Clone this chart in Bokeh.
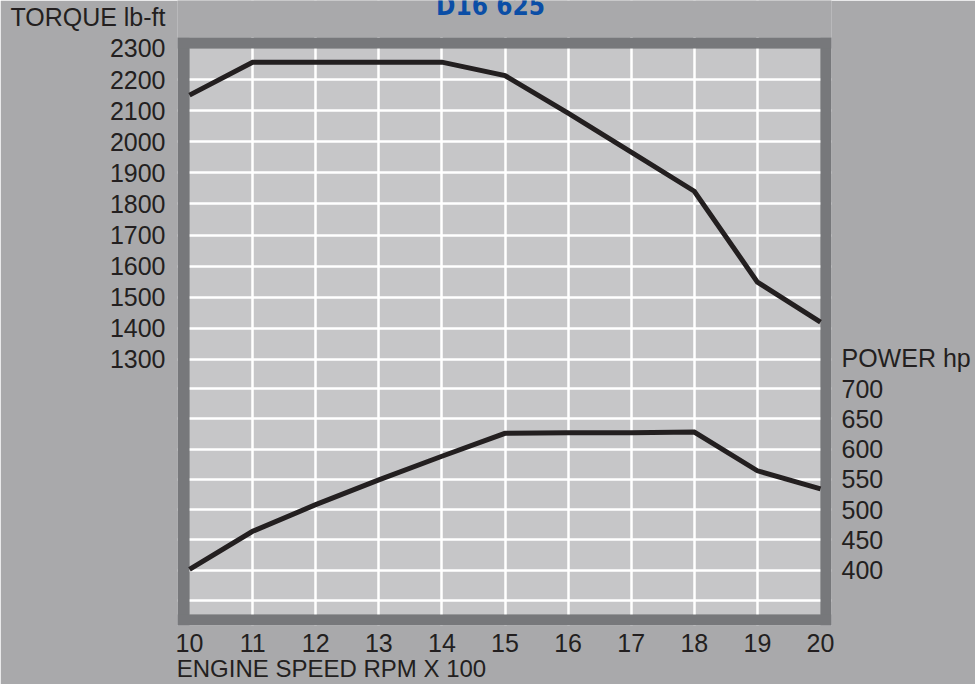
from bokeh.plotting import figure
from bokeh.models import (Range1d, LinearAxis, FixedTicker, Grid, BoxAnnotation, Label)
from bokeh.embed import file_html
from bokeh.resources import INLINE

# ---- data ----
rpm = [10, 11, 12, 13, 14, 15, 16, 17, 18, 19, 20]          # engine speed x 100
torque = [2150, 2256, 2256, 2256, 2256, 2213, 2092, 1967, 1841, 1549, 1420]   # lb-ft
power = [401, 464, 508, 549, 588, 626, 627, 627, 628, 564, 534]              # hp

x_ticks = [10, 11, 12, 13, 14, 15, 16, 17, 18, 19, 20]
torque_ticks = [1300, 1400, 1500, 1600, 1700, 1800, 1900, 2000, 2100, 2200, 2300]
power_ticks = [400, 450, 500, 550, 600, 650, 700]

title_text = "D16 625"
torque_label = "TORQUE lb-ft"
power_label = "POWER hp"
x_label = "ENGINE SPEED RPM X 100"

# ---- style ----
PAGE_BG = "#a9a9ab"
FRAME_DARK = "#77787b"
INNER_BG = "#c6c6c8"
INK = "#231f20"
FONT = "Liberation Sans"

X0, X1 = 9.8098, 20.1743          # frame (outer dark border) x extent
T0, T1 = 444.7, 2454.3            # frame y extent in torque units (top reaches canvas top)
P0, P1 = 308.3, 1341.3            # same extent in power units
FRAME_TOP_T = 2335.4              # top of dark border
INNER_BOTTOM_T = 480.1            # bottom of light chart area
TORQUE_NAME_POS = 2400            # where the axis name sits on the torque scale
POWER_NAME_POS = 750              # where the axis name sits on the power scale
X_NAME_POS = 12.25                # centre of the x axis name

p = figure(width=975, height=684,
           x_range=Range1d(X0, X1), y_range=Range1d(T0, T1),
           output_backend="svg", toolbar_location=None,
           min_border_left=177, min_border_right=144,
           min_border_top=0, min_border_bottom=59)
p.extra_y_ranges = {"power": Range1d(P0, P1)}

p.border_fill_color = PAGE_BG
p.background_fill_color = PAGE_BG
p.outline_line_color = None

# axes
p.xaxis.ticker = FixedTicker(ticks=x_ticks)
p.yaxis.ticker = FixedTicker(ticks=torque_ticks + [TORQUE_NAME_POS])
p.yaxis.major_label_overrides = {TORQUE_NAME_POS: torque_label}
right = LinearAxis(y_range_name="power",
                   ticker=FixedTicker(ticks=power_ticks + [POWER_NAME_POS]),
                   major_label_overrides={POWER_NAME_POS: power_label})
p.add_layout(right, "right")
xname = LinearAxis(ticker=FixedTicker(ticks=[X_NAME_POS]),
                   major_label_overrides={X_NAME_POS: x_label})
p.add_layout(xname, "below")

for ax, so, fs in ((p.xaxis[0], 8, "25px"), (p.yaxis[0], 12, "25px"),
                   (right, 10, "25px"), (xname, 0, "24px")):
    ax.axis_line_color = None
    ax.major_tick_line_color = None
    ax.minor_tick_line_color = None
    ax.major_tick_out = 0
    ax.major_tick_in = 0
    ax.minor_tick_out = 0
    ax.minor_tick_in = 0
    ax.major_label_standoff = so
    ax.major_label_text_font = FONT
    ax.major_label_text_font_size = fs
    ax.major_label_text_color = INK

# light chart area (below the grid)
p.add_layout(BoxAnnotation(left=10, right=20, bottom=INNER_BOTTOM_T, top=2300,
                           fill_color=INNER_BG, fill_alpha=1.0, line_color=None,
                           level="image"))

# grids
p.xgrid.ticker = FixedTicker(ticks=[11, 12, 13, 14, 15, 16, 17, 18, 19])
p.ygrid.ticker = FixedTicker(ticks=[1300, 1400, 1500, 1600, 1700, 1800, 1900, 2000, 2100, 2200])
pgrid = Grid(dimension=1, y_range_name="power",
             ticker=FixedTicker(ticks=[350, 400, 450, 500, 550, 600, 650, 700]))
p.add_layout(pgrid)
for g in (p.xgrid[0], p.ygrid[0], pgrid):
    g.grid_line_color = "white"
    g.grid_line_width = 2.5
    g.grid_line_alpha = 1.0

# dark border around the chart area and page-coloured strip above it
# (drawn above the grid, below the curves)
for kw, col in ((dict(left=X0, right=10, bottom=T0, top=FRAME_TOP_T), FRAME_DARK),
                (dict(left=20, right=X1, bottom=T0, top=FRAME_TOP_T), FRAME_DARK),
                (dict(left=X0, right=X1, bottom=2300, top=FRAME_TOP_T), FRAME_DARK),
                (dict(left=X0, right=X1, bottom=T0, top=INNER_BOTTOM_T), FRAME_DARK),
                (dict(left=X0, right=X1, bottom=FRAME_TOP_T, top=T1), PAGE_BG)):
    p.add_layout(BoxAnnotation(fill_color=col, fill_alpha=1.0,
                               line_color=None, level="underlay", **kw))

# curves
p.line(rpm, torque, line_color=INK, line_width=5, line_join="miter")
p.line(rpm, power, line_color=INK, line_width=5, line_join="miter", y_range_name="power")

# heading (cut by the top edge, as in the reference)
p.add_layout(Label(x=14.77, y=2386.8, text=title_text,
                   text_font="DejaVu Sans Condensed, DejaVu Sans, sans-serif",
                   text_font_size="26px", text_font_style="bold", text_color="#0b4ea6",
                   text_align="center", text_baseline="bottom"))

open("out.html", "w").write(file_html(p, INLINE))
